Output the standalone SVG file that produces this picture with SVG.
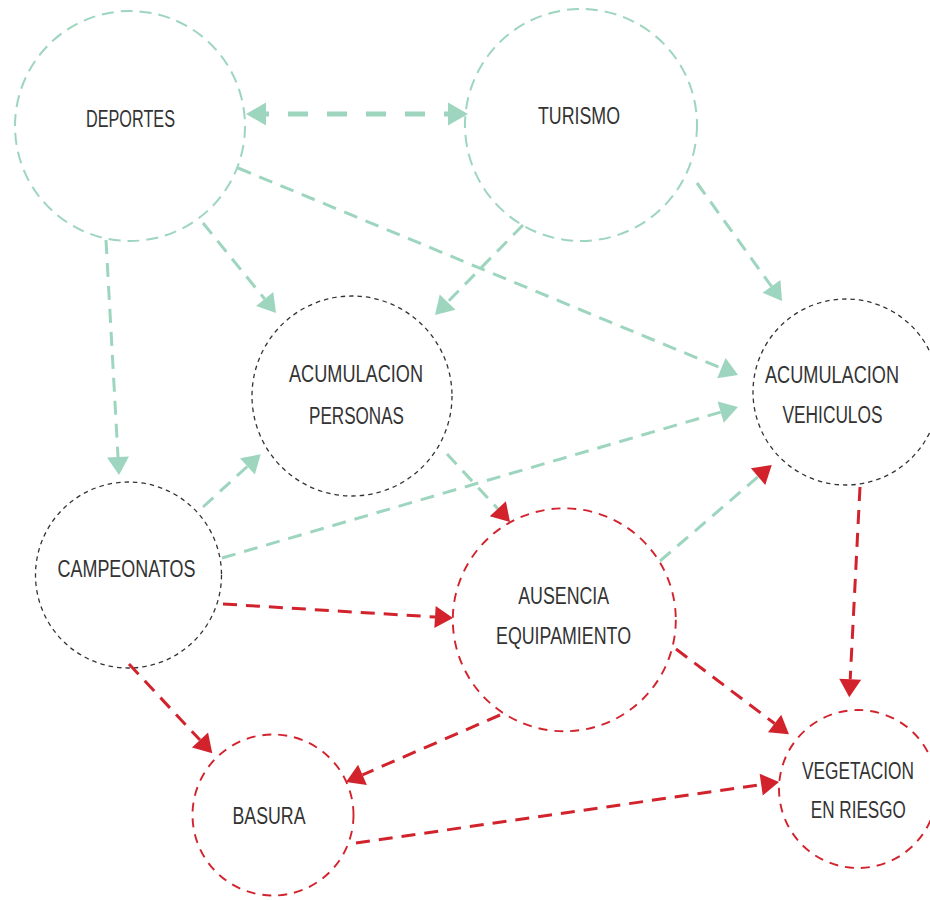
<svg xmlns="http://www.w3.org/2000/svg" width="930" height="900" viewBox="0 0 930 900">
<style>
.bg{fill:#ffffff}
.cg{fill:none;stroke:#9dd5be;stroke-width:2;stroke-dasharray:12 7}
.ck{fill:none;stroke:#333333;stroke-width:1.3;stroke-dasharray:4.5 4}
.cr{fill:none;stroke:#d2232d;stroke-width:1.9;stroke-dasharray:9 7}
.t{font-family:"Liberation Sans Narrow","Liberation Sans","DejaVu Sans Condensed",sans-serif;font-size:23.5px;fill:#333333;text-anchor:middle}
.eg{fill:none;stroke:#9dd5be;stroke-width:3;stroke-dasharray:14 9}
.er{fill:none;stroke:#d2232d;stroke-width:3;stroke-dasharray:14 9}
.big{fill:none;stroke:#9dd5be;stroke-width:5;stroke-dasharray:20 19;stroke-dashoffset:17}
</style>
<defs>
<marker id="ag" markerUnits="userSpaceOnUse" markerWidth="18" markerHeight="22" refX="0" refY="11" orient="auto" overflow="visible"><path d="M0,0 L18,11 L0,22 z" fill="#9dd5be"/></marker>
<marker id="ar" markerUnits="userSpaceOnUse" markerWidth="18" markerHeight="22" refX="0" refY="11" orient="auto" overflow="visible"><path d="M0,0 L18,11 L0,22 z" fill="#d2232d"/></marker>
<marker id="abig" markerUnits="userSpaceOnUse" markerWidth="20" markerHeight="23" refX="0" refY="11.5" orient="auto-start-reverse" overflow="visible"><path d="M0,0 L20,11.5 L0,23 z" fill="#9dd5be"/></marker>
</defs>
<rect class="bg" x="0" y="0" width="930" height="900"/>
<g id="deportes"><circle class="cg" cx="130" cy="126" r="115"/><text class="t" x="130.5" y="127" textLength="89" lengthAdjust="spacingAndGlyphs">DEPORTES</text></g>
<g id="turismo"><circle class="cg" cx="581" cy="125" r="116"/><text class="t" x="579" y="124" textLength="82" lengthAdjust="spacingAndGlyphs">TURISMO</text></g>
<g id="acum-personas"><circle class="ck" cx="352" cy="396" r="100"/><text class="t" x="356" y="382" textLength="134" lengthAdjust="spacingAndGlyphs">ACUMULACION</text><text class="t" x="356.5" y="424" textLength="95" lengthAdjust="spacingAndGlyphs">PERSONAS</text></g>
<g id="acum-vehiculos"><circle class="ck" cx="846" cy="392" r="93"/><text class="t" x="832" y="383" textLength="134" lengthAdjust="spacingAndGlyphs">ACUMULACION</text><text class="t" x="832.5" y="423" textLength="100" lengthAdjust="spacingAndGlyphs">VEHICULOS</text></g>
<g id="campeonatos"><circle class="ck" cx="128.5" cy="575" r="93"/><text class="t" x="126.5" y="577" textLength="138" lengthAdjust="spacingAndGlyphs">CAMPEONATOS</text></g>
<g id="ausencia"><circle class="cr" cx="564.3" cy="619.8" r="111.5"/><text class="t" x="563.7" y="604" textLength="91" lengthAdjust="spacingAndGlyphs">AUSENCIA</text><text class="t" x="563.5" y="644" textLength="135" lengthAdjust="spacingAndGlyphs">EQUIPAMIENTO</text></g>
<g id="basura"><circle class="cr" cx="273" cy="815" r="80.5"/><text class="t" x="269" y="824" textLength="73" lengthAdjust="spacingAndGlyphs">BASURA</text></g>
<g id="vegetacion"><circle class="cr" cx="858" cy="789" r="79"/><text class="t" x="858" y="779" textLength="112" lengthAdjust="spacingAndGlyphs">VEGETACION</text><text class="t" x="858.3" y="818" textLength="95" lengthAdjust="spacingAndGlyphs">EN RIESGO</text></g>
<g id="connectors">
<path class="big" d="M266,114 L448,114" marker-start="url(#abig)" marker-end="url(#abig)"/>
<path class="eg" d="M106,240 L118,457" marker-end="url(#ag)"/>
<path class="eg" d="M203,223 L264.7,299" marker-end="url(#ag)"/>
<path class="eg" d="M523,225 L447.6,302.1" marker-end="url(#ag)"/>
<path class="eg" d="M697,183 L771.5,286.4" marker-end="url(#ag)"/>
<path class="eg" d="M238,168 L721.4,368.1" marker-end="url(#ag)"/>
<path class="eg" d="M203,507 L247.4,466.4" marker-end="url(#ag)"/>
<path class="eg" d="M222,558 L720.7,412.1" marker-end="url(#ag)"/>
<path class="eg" d="M447,454 L497.8,508.8" marker-end="url(#ar)"/>
<path class="eg" d="M660,561 L758.1,476.7" marker-end="url(#ar)"/>
<path class="er" d="M223,604 L435,617" marker-end="url(#ar)"/>
<path class="er" d="M129,664 L200,740.1" marker-end="url(#ar)"/>
<path class="er" d="M500,715 L362.5,774.8" marker-end="url(#ar)"/>
<path class="er" d="M356,843 L761.2,784.6" marker-end="url(#ar)"/>
<path class="er" d="M676,649 L774.6,723.5" marker-end="url(#ar)"/>
<path class="er" d="M860,487 L850.2,679.3" marker-end="url(#ar)"/>
</g>
</svg>
